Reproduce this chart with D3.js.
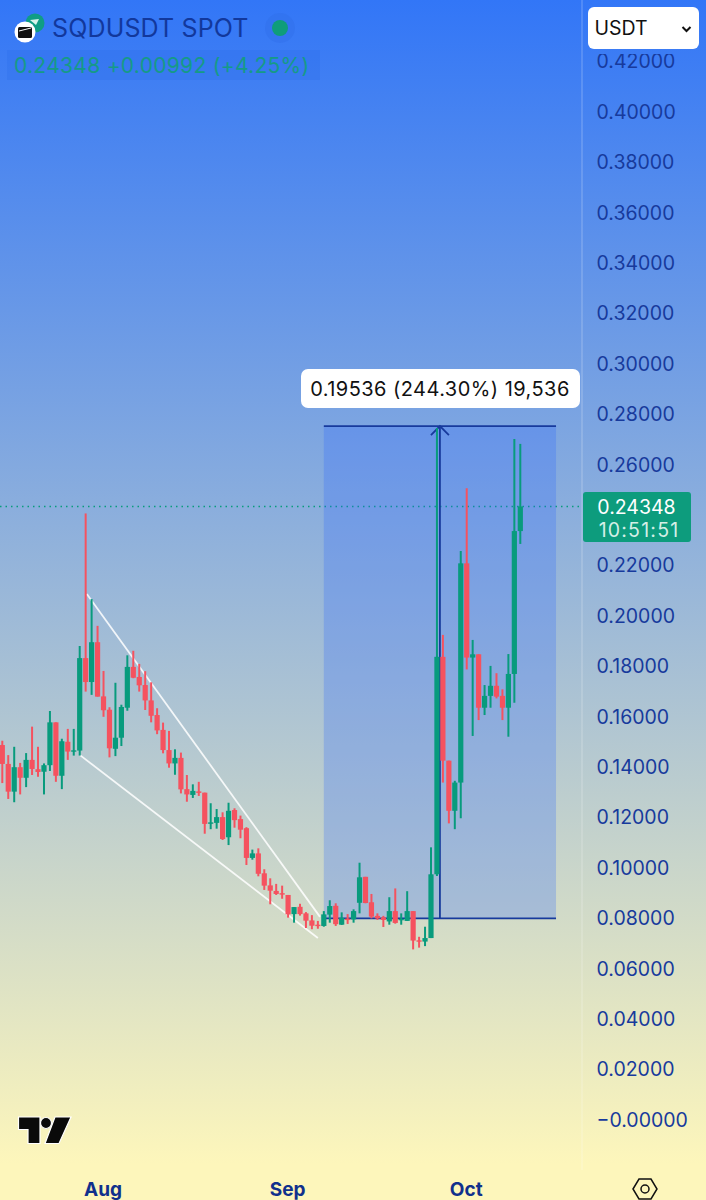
<!DOCTYPE html>
<html>
<head>
<meta charset="utf-8">
<script src="https://cdn.jsdelivr.net/npm/d3@7"></script>
<style>
  html, body { margin: 0; padding: 0; background: #fff; }
  svg { display: block; }
  text { font-family: Inter, "Noto Sans", sans-serif; }
</style>
</head>
<body>
<script>
var opens = [
  .1488,.1413,.1303,.1400,.1358,.1429,.1392,.1382,.1408,.1578,
  .1366,.1501,.1462,.1466,.1833,.1738,.1896,.1681,.1628,.1473,
  .1517,.1636,.1798,.1758,.1726,.1665,.1607,.1548,.1468,.1415,
  .1437,.1313,.1290,.1304,.1299,.1176,.1179,.1202,.1122,.1230,
  .1194,.1158,.1040,.1058,.0979,.0931,.0909,.0900,.0893,.0817,
  .0846,.0820,.0792,.0775,.0770,.0815,.0850,.0775,.0799,.0796,
  .0862,.0965,.0864,.0810,.0804,.0788,.0829,.0794,.0790,.0829,
  .0713,.0708,.0722,.0975,.1838,.1426,.1227,.1339,.2209,.1835,
  .1848,.1636,.1683,.1723,.1683,.1636,.1770,.2337];
var closes = [
  .1413,.1303,.1400,.1358,.1429,.1393,.1381,.1408,.1578,.1366,
  .1503,.1462,.1467,.1833,.1738,.1896,.1680,.1626,.1475,.1517,
  .1639,.1798,.1755,.1725,.1665,.1604,.1546,.1468,.1415,.1437,
  .1312,.1292,.1306,.1298,.1175,.1181,.1202,.1115,.1227,.1190,
  .1152,.1040,.1058,.0977,.0930,.0910,.0897,.0896,.0816,.0845,
  .0817,.0791,.0771,.0770,.0816,.0849,.0777,.0802,.0796,.0829,
  .0963,.0861,.0807,.0800,.0794,.0829,.0782,.0798,.0829,.0712,
  .0710,.0722,.0975,.1838,.1426,.1227,.1339,.2209,.1835,.1848,
  .1636,.1683,.1723,.1680,.1636,.1770,.2337,.24348];
var highs = [
  .1505,.1448,.1481,.1417,.1456,.1561,.1481,.1415,.1623,.1578,
  .1513,.1552,.1552,.1881,.2407,.2067,.1961,.1782,.1638,.1735,
  .1648,.1844,.1862,.1810,.1781,.1737,.1634,.1577,.1544,.1471,
  .1458,.1369,.1332,.1342,.1299,.1257,.1234,.1221,.1259,.1237,
  .1208,.1162,.1073,.1078,.0995,.0959,.0937,.0930,.0893,.0845,
  .0858,.0825,.0813,.0790,.0829,.0872,.0860,.0824,.0817,.0836,
  .1021,.0965,.0897,.0820,.0810,.0884,.0919,.0820,.0908,.0829,
  .0727,.0767,.1082,.2746,.1925,.1426,.1346,.2258,.2507,.1905,
  .1848,.1726,.1802,.1773,.1709,.1849,.2702,.2683];
var lows = [
  .1337,.1274,.1261,.1292,.1321,.1369,.1362,.1292,.1385,.1342,
  .1313,.1429,.1446,.1446,.1700,.1687,.1680,.1600,.1439,.1444,
  .1484,.1624,.1753,.1700,.1627,.1578,.1531,.1455,.1398,.1370,
  .1296,.1263,.1278,.1286,.1136,.1154,.1156,.1111,.1091,.1160,
  .1118,.1012,.1033,.0967,.0913,.0856,.0893,.0878,.0803,.0783,
  .0811,.0762,.0757,.0759,.0767,.0783,.0770,.0774,.0778,.0783,
  .0820,.0860,.0800,.0794,.0766,.0775,.0779,.0775,.0790,.0677,
  .0684,.0690,.0722,.0968,.1339,.1177,.1154,.1197,.1788,.1524,
  .1587,.1607,.1636,.1673,.1587,.1521,.1656,.2286];

var priceTicks = [.42,.40,.38,.36,.34,.32,.30,.28,.26,.24,.22,.20,.18,.16,.14,.12,.10,.08,.06,.04,.02,0];
var monthTicks = [17, 48, 78];
var monthLabels = ["Aug", "Sep", "Oct"];
var lastPrice = 0.24348;
var measureBars = [54, 93];
var measurePrices = [0.08, 0.27536];
var wedgeUpper = [[14.2, .2087], [53.36, .0806]];
var wedgeLower = [[13.05, .1448], [53.0, .0722]];

var width = 706,
    height = 1200;

var green = "#089b7d",
    red = "#f5525f",
    navy = "#173a9c";

var svg = d3.select("body").append("svg")
            .attr("width", width)
            .attr("height", height);

var defs = svg.append("defs");
var grad = defs.append("linearGradient")
               .attr("id", "bg")
               .attr("x1", 0).attr("y1", 0)
               .attr("x2", 0).attr("y2", 1);
grad.append("stop").attr("offset", "0%").attr("stop-color", "#3276f7");
grad.append("stop").attr("offset", "97%").attr("stop-color", "#fdf6bb");

svg.append("rect").attr("width", width).attr("height", height).attr("fill", "url(#bg)");

var x = d3.scaleLinear().domain([0, 87]).range([2.3, 520.3]);
var y = d3.scaleLinear().domain([0, 0.42]).range([1120, 61.6]);

// right side divider
svg.append("line")
   .attr("x1", 582).attr("x2", 582).attr("y1", 0).attr("y2", 1170)
   .attr("stroke", "#fff").attr("stroke-opacity", 0.2).attr("stroke-width", 1.5);

// price axis
defs.append("clipPath").attr("id", "axisClipLocal")
    .append("rect").attr("x", -13).attr("y", 54).attr("width", 122).attr("height", 1146);
var yAxis = d3.axisRight(y)
              .tickValues(priceTicks)
              .tickSize(0)
              .tickPadding(0)
              .tickFormat(function(d){ return d === 0 ? "\u22120.00000" : d3.format(".5f")(d); });
var yG = svg.append("g")
            .attr("transform", "translate(596.5,0)")
            .attr("clip-path", "url(#axisClipLocal)")
            .call(yAxis);
yG.select(".domain").remove();
yG.selectAll("text")
  .attr("fill", navy)
  .style("font-family", "Inter, sans-serif")
  .style("font-size", "19.5px");
yG.selectAll(".tick").filter(function(d){ return d === 0.24; }).remove();

// month axis
var xAxis = d3.axisBottom(x)
              .tickValues(monthTicks)
              .tickSize(0)
              .tickPadding(0)
              .tickFormat(function(d, i){ return monthLabels[i]; });
var xG = svg.append("g")
            .attr("transform", "translate(-1,1182)")
            .call(xAxis);
xG.select(".domain").remove();
xG.selectAll("text")
  .attr("fill", "#10308c")
  .style("font-family", "Inter, sans-serif")
  .style("font-weight", 700)
  .style("font-size", "19px");

// last price line
svg.append("line")
   .attr("x1", 0).attr("x2", 582)
   .attr("y1", y(lastPrice)).attr("y2", y(lastPrice))
   .attr("stroke", green).attr("stroke-width", 1.5)
   .attr("stroke-dasharray", "1.5 4");

// measure box
var boxX0 = x(measureBars[0]), boxX1 = x(measureBars[1]);
var boxY0 = y(measurePrices[0]), boxY1 = y(measurePrices[1]);
svg.append("rect")
   .attr("x", boxX0).attr("y", boxY1)
   .attr("width", boxX1 - boxX0).attr("height", boxY0 - boxY1)
   .attr("fill", "#2962ff").attr("fill-opacity", 0.25);
[boxY0, boxY1].forEach(function(v){
  svg.append("line")
     .attr("x1", boxX0).attr("x2", boxX1).attr("y1", v).attr("y2", v)
     .attr("stroke", navy).attr("stroke-width", 1.8);
});
var arrowX = (boxX0 + boxX1) / 2;
svg.append("line")
   .attr("x1", arrowX).attr("x2", arrowX).attr("y1", boxY0).attr("y2", boxY1)
   .attr("stroke", navy).attr("stroke-width", 1.8);
svg.append("path")
   .attr("d", "M" + (arrowX - 9) + "," + (boxY1 + 9) + "L" + arrowX + "," + boxY1 + "L" + (arrowX + 9) + "," + (boxY1 + 9))
   .attr("fill", "none").attr("stroke", navy).attr("stroke-width", 1.8);

// wedge lines
var line = d3.line().x(function(d){ return x(d[0]); }).y(function(d){ return y(d[1]); });
[wedgeUpper, wedgeLower].forEach(function(w){
  svg.append("path").attr("d", line(w))
     .attr("fill", "none").attr("stroke", "#fff").attr("stroke-opacity", 0.85).attr("stroke-width", 1.8);
});

// candles
var candles = svg.selectAll(".candle")
                 .data(d3.range(closes.length))
                 .enter()
                 .append("g")
                 .attr("class", "candle")
                 .attr("fill", function(i){ return closes[i] >= opens[i] ? green : red; })
                 .attr("stroke", function(i){ return closes[i] >= opens[i] ? green : red; });
candles.append("line")
       .attr("x1", function(i){ return x(i); })
       .attr("x2", function(i){ return x(i); })
       .attr("y1", function(i){ return y(highs[i]); })
       .attr("y2", function(i){ return y(lows[i]); })
       .attr("stroke-width", 2);
candles.append("rect")
       .attr("x", function(i){ return x(i) - 2.6; })
       .attr("width", 5.2)
       .attr("y", function(i){ return y(Math.max(opens[i], closes[i])); })
       .attr("height", function(i){ return Math.max(1.4, Math.abs(y(opens[i]) - y(closes[i]))); })
       .attr("stroke", "none");

// measure label
svg.append("rect")
   .attr("x", 301).attr("y", 369).attr("width", 279).attr("height", 39).attr("rx", 7)
   .attr("fill", "#fff");
svg.append("text")
   .attr("x", 440).attr("y", 396)
   .attr("text-anchor", "middle")
   .attr("fill", "#111")
   .style("font-size", "20px")
   .style("letter-spacing", "0.45px")
   .text("0.19536 (244.30%) 19,536");

// last price tag
svg.append("rect")
   .attr("x", 583).attr("y", 492).attr("width", 108).attr("height", 50).attr("rx", 3)
   .attr("fill", "#0d9c7d");
svg.append("text")
   .attr("x", 636.5).attr("y", 514)
   .attr("text-anchor", "middle").attr("fill", "#fff")
   .style("font-size", "19.5px")
   .text("0.24348");
svg.append("text")
   .attr("x", 639).attr("y", 537)
   .attr("text-anchor", "middle").attr("fill", "#d4efe6")
   .style("font-size", "19.5px")
   .style("letter-spacing", "1.2px")
   .text("10:51:51");

// header
svg.append("circle").attr("cx", 35).attr("cy", 23).attr("r", 9.5).attr("fill", "#0f9d85");
svg.append("path").attr("d", "M30,20L39,19L36,25Z").attr("fill", "#d6f3ea");
svg.append("circle").attr("cx", 25).attr("cy", 32).attr("r", 10.5).attr("fill", "#fff");
svg.append("rect").attr("x", 18).attr("y", 27).attr("width", 14).attr("height", 11).attr("rx", 1.5).attr("fill", "#111");
svg.append("path").attr("d", "M19,31L31,28").attr("stroke", "#fff").attr("stroke-width", 1);
svg.append("text")
   .attr("x", 52).attr("y", 37)
   .attr("fill", "#12389c")
   .style("font-size", "25px")
   .style("letter-spacing", "0.15px")
   .text("SQDUSDT SPOT");
svg.append("circle").attr("cx", 280).attr("cy", 28).attr("r", 15).attr("fill", "#2f6fe8").attr("fill-opacity", 0.4);
svg.append("circle").attr("cx", 280).attr("cy", 28).attr("r", 8).attr("fill", "#0f9d7a");
svg.append("rect")
   .attr("x", 7).attr("y", 50).attr("width", 313).attr("height", 30)
   .attr("fill", "#2c6cec").attr("fill-opacity", 0.3);
svg.append("text")
   .attr("x", 14).attr("y", 72.5)
   .attr("fill", "#159a87")
   .style("font-size", "21px")
   .style("letter-spacing", "0.3px")
   .text("0.24348 +0.00992 (+4.25%)");

// currency select
svg.append("rect")
   .attr("x", 588).attr("y", 7).attr("width", 111).attr("height", 42).attr("rx", 6)
   .attr("fill", "#fff");
svg.append("text")
   .attr("x", 594.5).attr("y", 35)
   .attr("fill", "#111")
   .style("font-size", "19.5px")
   .text("USDT");
svg.append("path")
   .attr("d", "M682.5,27L686.5,31L690.5,27")
   .attr("fill", "none").attr("stroke", "#111").attr("stroke-width", 2);

// logo
var logo = svg.append("g").attr("fill", "#0a0a0a").attr("stroke", "#fff").attr("stroke-width", 1.2);
logo.append("path").attr("d", "M18.5,1117H40V1143.5H28V1129.5H18.5Z");
logo.append("circle").attr("cx", 46).attr("cy", 1123).attr("r", 5.5);
logo.append("path").attr("d", "M55,1117H71L59,1143.5H45Z");

// settings hexagon
svg.append("path")
   .attr("d", "M633,1189L639,1179H651L657,1189L651,1199H639Z")
   .attr("fill", "none").attr("stroke", "#111").attr("stroke-width", 1.5);
svg.append("circle").attr("cx", 645).attr("cy", 1189).attr("r", 4)
   .attr("fill", "none").attr("stroke", "#111").attr("stroke-width", 1.5);
</script>
</body>
</html>
